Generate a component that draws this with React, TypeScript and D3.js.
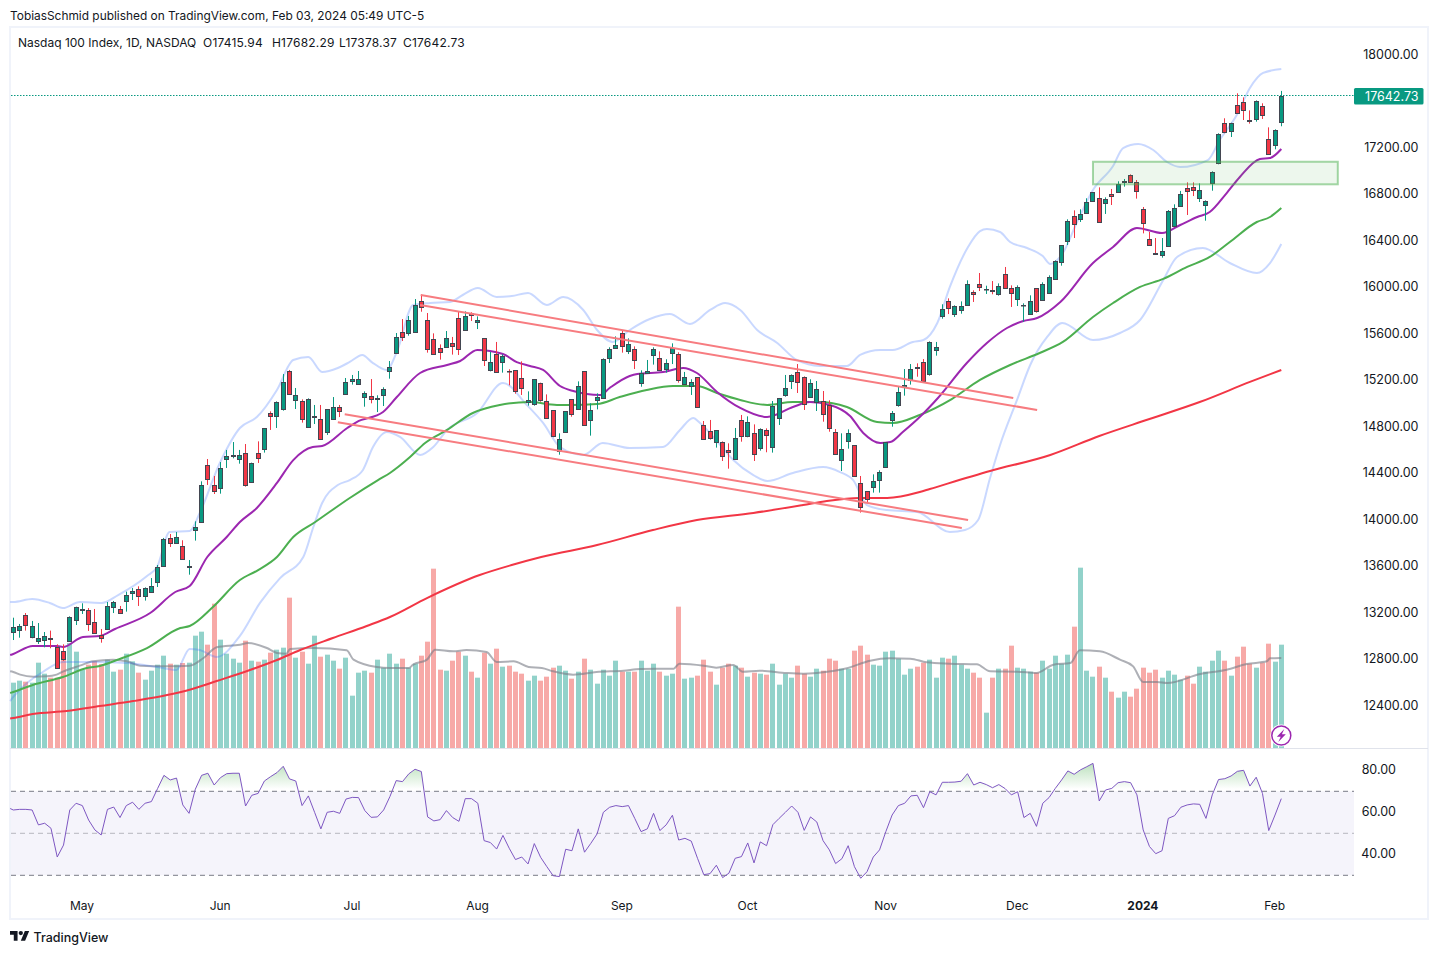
import React, { useRef, useEffect } from 'react';
import * as d3 from 'd3';

const opens = [
  13031,13042,13171,12982,12954,12962,12974,12896,12865,12954,
  13128,13220,13214,13111,13005,13057,13240,13223,13298,13366,
  13395,13341,13375,13461,13599,13834,13797,13765,13584,13908,
  13977,14462,14290,14264,14513,14545,14519,14565,14315,14565,
  14605,14909,14889,14943,15270,15027,15012,14789,14875,14857,
  14746,14863,14961,15078,15184,15158,15047,15061,15029,15064,
  15270,15425,15606,15603,15606,15878,15709,15545,15468,15477,
  15511,15726,15623,15769,15692,15554,15279,15416,15348,15276,
  15279,15210,15004,14986,15167,15012,14935,14582,14748,15029,
  14943,15270,14849,15026,15038,15382,15468,15597,15448,15460,
  15167,15253,15408,15382,15288,15425,15417,15159,15147,15219,
  14806,14754,14660,14660,14591,14519,14849,14711,14737,14608,
  14763,14617,14866,15064,15184,15262,15219,15047,15004,15012,
  14978,14746,14505,14668,14634,14307,14238,14272,14333,14445,
  14849,14978,15133,15193,15305,15348,15245,15457,15743,15872,
  15761,15795,15838,15950,16019,15976,15967,15933,16105,15984,
  15890,15838,15761,15984,15881,15944,16062,16208,16389,16604,
  16584,16630,16733,16759,16716,16793,16810,16896,16956,16896,
  16664,16406,16285,16274,16346,16523,16695,16845,16853,16764,
  16698,16887,17060,17404,17341,17558,17584,17429,17438,17550,
  17266,17214,17415.94
];

const highs = [
  13151,13097,13191,13123,13105,13028,13040,12922,12922,13163,
  13246,13275,13234,13226,13054,13286,13295,13252,13375,13406,
  13421,13412,13492,13604,13837,13871,13888,13817,13647,13980,
  14324,14516,14370,14490,14594,14662,14594,14645,14485,14668,
  14780,14926,15012,15247,15282,15127,15029,15038,14981,14981,
  14946,15049,14981,15213,15239,15273,15098,15204,15064,15133,
  15359,15600,15720,15746,15892,15930,15772,15597,15502,15617,
  15566,15786,15786,15778,15743,15554,15437,15523,15416,15288,
  15279,15356,15098,15201,15173,15072,14935,14737,14929,15029,
  15184,15270,14995,15081,15382,15477,15571,15623,15554,15485,
  15279,15368,15477,15442,15374,15511,15434,15265,15202,15219,
  14843,14852,14763,14668,14651,14783,14895,14883,14814,14780,
  14780,15015,15041,15239,15244,15333,15227,15202,15187,15101,
  15021,14774,14737,14771,14634,14370,14238,14384,14419,14660,
  14929,15141,15290,15333,15339,15376,15528,15523,15847,15898,
  15838,15872,16053,15967,16116,16007,16047,16027,16168,16010,
  16010,15855,15924,15984,16036,16096,16225,16354,16578,16655,
  16664,16759,16810,16853,16767,16839,16905,16925,16965,16916,
  16684,16469,16417,16417,16658,16707,16822,16896,16896,16887,
  16741,16991,17318,17447,17409,17662,17627,17515,17601,17576,
  17369,17352,17682.29
];

const lows = [
  12959,12979,13040,12974,12925,12896,12888,12710,12779,12945,
  13088,13183,13037,13017,12936,13051,13191,13183,13203,13303,
  13252,13298,13375,13415,13596,13759,13788,13656,13521,13814,
  13974,14293,14215,14218,14439,14522,14476,14278,14313,14482,
  14571,14766,14783,14932,15070,14946,14829,14786,14817,14682,
  14723,14860,14877,15075,15156,15153,14966,14995,14920,14972,
  15207,15422,15531,15577,15603,15783,15431,15414,15371,15474,
  15414,15411,15620,15703,15634,15316,15270,15265,15259,15150,
  15078,15067,14975,14975,15009,14863,14703,14553,14743,14880,
  14938,14803,14717,14943,15035,15342,15465,15431,15419,15290,
  15138,15253,15328,15276,15259,15333,15173,15153,15067,14958,
  14683,14683,14614,14499,14433,14513,14665,14703,14499,14588,
  14574,14571,14809,15052,15118,15084,14938,15041,14929,14837,
  14751,14554,14413,14605,14364,14055,14135,14227,14227,14442,
  14794,14966,15061,15156,15224,15182,15233,15405,15723,15763,
  15738,15766,15835,15867,15961,15936,15933,15921,15981,15824,
  15832,15698,15758,15775,15878,15938,16059,16179,16357,16417,
  16555,16627,16730,16549,16624,16701,16807,16859,16893,16756,
  16457,16351,16274,16248,16343,16515,16692,16615,16778,16727,
  16566,16824,17051,17318,17286,17490,17432,17401,17418,17441,
  17134,17180,17378.37
];

const closes = [
  13068,13077,13085,13077,12974,12991,12965,12716,12799,13154,
  13240,13223,13100,13022,12974,13249,13283,13189,13343,13378,
  13335,13404,13421,13584,13825,13797,13842,13659,13593,13928,
  14290,14347,14244,14436,14539,14548,14548,14295,14479,14522,
  14780,14889,15004,15176,15078,15064,14857,15035,14883,14685,
  14943,14961,14932,15176,15201,15201,15081,15029,15038,15115,
  15305,15563,15563,15709,15838,15821,15460,15416,15439,15554,
  15491,15460,15743,15752,15709,15365,15348,15267,15399,15270,
  15098,15124,15021,15201,15024,14866,14711,14685,14926,14900,
  15141,14806,14935,15047,15373,15460,15494,15485,15503,15365,
  15253,15270,15460,15285,15339,15468,15193,15219,15182,14961,
  14685,14694,14763,14539,14574,14694,14711,14832,14556,14771,
  14720,14969,15038,15124,15236,15176,14986,15167,15116,14900,
  14780,14556,14600,14737,14373,14100,14169,14324,14401,14660,
  14909,15090,15150,15288,15302,15184,15520,15477,15804,15812,
  15829,15829,16019,15933,15993,15979,15964,16002,15984,15941,
  15993,15841,15872,15787,16019,16079,16217,16354,16561,16535,
  16621,16724,16810,16552,16750,16776,16879,16905,16896,16819,
  16543,16360,16277,16303,16647,16672,16793,16819,16827,16827,
  16733,16982,17309,17326,17404,17495,17515,17421,17593,17472,
  17137,17343,17642.73
];

const volumes = [
  196,202,199,196,256,223,211,211,265,315,
  289,235,250,260,252,265,229,235,283,260,
  226,205,232,250,277,253,250,255,256,337,
  349,310,433,325,283,268,256,322,262,259,
  265,286,295,301,451,271,289,253,337,274,
  280,262,238,271,157,226,232,226,265,241,
  283,253,268,241,253,277,319,538,235,232,
  262,289,277,229,211,286,253,298,244,247,
  229,223,202,217,202,214,241,247,232,208,
  229,268,235,193,235,217,262,229,229,229,
  262,232,253,229,217,223,424,208,211,217,
  265,229,190,241,253,247,241,214,226,223,
  220,253,190,223,211,247,223,214,238,232,
  268,262,238,238,292,307,280,250,247,289,
  292,268,220,238,244,256,265,211,271,268,
  277,250,238,226,211,106,211,238,238,307,
  241,238,229,226,262,238,277,253,280,364,
  541,232,214,244,211,169,151,169,154,178,
  241,226,235,211,232,220,205,217,193,244,
  229,262,292,262,217,274,304,253,241,256,
  313,259,310
];

const rsi = [
  61.1,61.4,61.4,61.1,54.0,54.8,52.4,38.7,44.4,61.1,
  64.3,63.2,56.3,51.6,49.2,61.4,62.5,57.5,63.2,64.8,
  61.4,64.3,65.1,71.4,77.6,75.4,76.3,63.5,59.5,71.0,
  77.6,78.6,73.0,76.5,78.4,78.6,78.6,63.0,68.1,69.0,
  74.9,77.0,78.9,81.9,75.9,74.9,63.2,67.8,60.0,52.1,
  60.0,60.5,59.5,66.3,67.1,67.0,60.8,57.6,57.8,61.1,
  67.5,75.1,74.6,78.3,80.5,79.4,57.8,55.9,56.5,60.8,
  57.5,55.7,66.5,66.5,64.3,46.5,45.6,42.5,49.0,42.9,
  37.5,38.7,35.4,45.1,38.6,34.1,29.8,29.4,42.4,41.7,
  52.1,41.0,45.2,49.7,60.0,62.4,63.2,62.7,63.2,57.1,
  50.8,52.1,59.5,51.3,54.0,58.6,46.8,47.6,46.3,38.1,
  30.3,30.8,34.8,28.9,31.0,38.1,38.9,45.4,35.9,45.9,
  44.1,54.1,57.1,60.0,63.0,60.0,51.4,57.8,55.4,46.5,
  42.1,35.6,37.9,44.1,34.1,28.6,31.7,38.7,42.1,50.8,
  58.7,63.2,64.3,67.8,68.1,62.2,69.8,68.3,74.3,74.3,
  74.4,74.8,78.4,73.0,74.3,73.2,71.7,73.2,71.3,68.3,
  69.8,57.5,59.5,53.3,64.3,67.0,71.4,75.4,79.7,78.1,
  80.2,81.7,83.3,65.4,70.6,71.4,74.1,74.6,74.1,68.3,
  51.6,43.7,40.3,41.7,57.1,58.4,62.4,63.5,64.0,63.8,
  57.1,68.3,75.6,76.0,77.3,79.5,80.0,72.5,76.7,69.0,
  51.3,58.7,66.5
];

// RSI where the pane's left edge cuts the bar before the first one
const rsiLead = 61.8;

// [bar, value], starting at the pane's left edge
const ma20: [number, number][] = [
  [-0.5,12830],[0,12839],[3.1,12907],[7,12907],[7.9,12899],[11.1,12985],[13.8,12994],[16.2,13054],[21.8,13191],[25.8,13372],[28.1,13424],
  [30.9,13673],[34,13845],[36.1,13974],[38.8,14095],[42,14310],[44.6,14507],[47.7,14619],[49.2,14628],[53.2,14783],[54.7,14834],
  [58.9,14920],[61.1,15049],[64.8,15256],[69.1,15325],[71.2,15359],[73.9,15454],[78,15419],[80.2,15350],[82.3,15316],[84.4,15282],
  [87.1,15144],[89.2,15101],[93.5,15067],[95,15127],[98.2,15230],[99.4,15247],[103.5,15264],[106.7,15299],[108.9,15256],[112.1,15093],
  [115.8,14955],[120.1,14877],[124.2,14963],[126.9,15006],[130.1,14981],[133.3,14886],[135.4,14740],[138.1,14654],[139.7,14662],[141.7,14748],
  [144.4,14877],[147.3,15041],[151.9,15342],[155.1,15514],[158.3,15643],[160.9,15703],[163.1,15729],[166.8,15867],[172,16202],[175.2,16340],
  [179,16503],[183,16460],[185.9,16529],[188.6,16598],[190.6,16641],[193.3,16804],[195.4,16942],[198.6,17097],[200.2,17105],[202,17183]
];

const ma50: [number, number][] = [
  [-0.5,12503],[0,12512],[3.1,12572],[7.9,12641],[11.7,12718],[13.8,12736],[16.5,12787],[21.3,12890],[26.6,13062],[28.1,13080],[31.8,13243],
  [36.1,13475],[39,13561],[42,13673],[44.6,13845],[48.1,13974],[53.6,14181],[58.1,14335],[60,14396],[63.2,14533],[65.6,14654],
  [69.1,14766],[73.2,14912],[77.5,14981],[82.3,15006],[86.6,14981],[88.7,14981],[93,14989],[96.6,15049],[100.9,15110],[105.1,15144],
  [108.9,15144],[112.1,15084],[115.8,15024],[120.1,14981],[124.2,15006],[128.5,15006],[132.8,14963],[137.6,14834],[140.1,14826],[144.4,14895],
  [149.5,15032],[154,15196],[158.8,15325],[163.5,15428],[167.2,15523],[172,15738],[175.2,15858],[179.5,15996],[183.2,16065],[187,16168],
  [190.6,16254],[193.8,16383],[198.1,16555],[200.2,16598],[202,16675]
];

const ma200: [number, number][] = [
  [-0.5,12284],[0,12288],[3.1,12323],[8.5,12348],[13.8,12391],[19.1,12434],[24.5,12486],[28.5,12538],[32.4,12606],[37.7,12701],[42,12787],
  [45.7,12873],[50.9,12976],[56.3,13080],[60,13157],[65.9,13320],[74.3,13518],[79.4,13604],[84.1,13673],[93,13776],[101.9,13905],
  [108.9,13991],[117.9,14052],[125.8,14120],[129.6,14155],[134.9,14181],[139.2,14181],[144.4,14232],[146,14258],[155.6,14413],[165.2,14551],
  [173,14714],[181,14860],[189,15006],[197,15179],[202,15282]
];

const bbUpper: [number, number][] = [
  [-0.5,13286],[0,13286],[3,13312],[5.8,13278],[7.9,13234],[10.6,13286],[14.1,13278],[16.7,13346],[21.3,13510],[22.9,13587],[24.9,13888],
  [28.1,13897],[29.7,14052],[32.9,14482],[36.1,14783],[38.8,14877],[42,15110],[44.6,15368],[47,15394],[49.2,15265],[51.7,15299],
  [53.6,15351],[55.6,15411],[57.1,15350],[59.5,15282],[61.1,15437],[63.7,15841],[66.4,15858],[69.6,15867],[71.6,15927],[74,15987],
  [77,15910],[79.4,15918],[82,15944],[85,15841],[87.6,15910],[90.8,15798],[93,15626],[95.5,15523],[98.2,15626],[101.4,15720],
  [104.6,15763],[107.8,15677],[111,15798],[113.4,15858],[115.8,15798],[118.5,15626],[121.7,15514],[124.8,15368],[128.5,15316],[132.8,15316],
  [134.9,15411],[138.1,15454],[140.1,15454],[143.3,15522],[145,15540],[147.2,15686],[149.2,15996],[152,16331],[154,16477],[155.1,16495],
  [157.2,16469],[158.8,16383],[161.5,16331],[164,16262],[165.2,16194],[167.2,16288],[169.4,16546],[172,16830],[175.2,17037],[176.8,17191],
  [179.2,17226],[181.6,17174],[183.8,17071],[185.9,17028],[190.3,17088],[192.2,17260],[194.9,17475],[197,17708],[199.1,17837],[202,17871]
];

const bbLower: [number, number][] = [
  [-0.5,12434],[0,12469],[2.2,12589],[4.7,12684],[7.9,12770],[12.7,12770],[18.1,12761],[22.9,12727],[26,12701],[28.1,12882],[29.7,12873],
  [32.4,12813],[36.1,12994],[39.3,13278],[42.5,13492],[46.2,13673],[47.8,13931],[49.2,14138],[51.7,14292],[53.6,14335],[55.7,14422],
  [57.3,14619],[59.5,14748],[61.6,14706],[64.8,14551],[66.9,14619],[69.1,14766],[73.9,14912],[78,15170],[81.8,14981],[84.4,14826],
  [87.1,14619],[90.8,14551],[93.9,14654],[98.2,14611],[103.5,14619],[106.2,14766],[108.3,14869],[109.4,14826],[112.6,14637],[114.7,14507],
  [117.9,14378],[120.1,14327],[124.2,14396],[129,14447],[131.7,14404],[133.8,14335],[136,14120],[139.2,14077],[144,14060],[149.2,13888],
  [151.6,13905],[153.7,13991],[155.6,14353],[157.2,14637],[159.9,15024],[162,15325],[164.7,15566],[167.1,15686],[172,15540],[176.3,15600],
  [179.5,15712],[183.2,16056],[185.4,16254],[189.5,16331],[193.8,16202],[198.1,16116],[200.2,16202],[202,16366]
];

const volumeMa: [number, number][] = [
  [-0.5,230],[0,228],[1.1,220],[3.2,214],[5.3,215],[6.9,220],[8,230],[10.6,247],[12.7,260],[15.9,265],[18.1,260],
  [20.2,247],[24.4,245],[28.1,247],[30.3,270],[32.4,302],[36.1,310],[37.4,315],[40.4,300],[42,285],[43.5,283],
  [44.1,297],[47.8,300],[53.1,293],[54.2,265],[57.9,243],[60,240],[63,240],[63.7,250],[65.9,265],[67.2,295],
  [70.1,290],[72.2,294],[75.4,288],[77,258],[79.7,260],[82.1,243],[84.2,240],[86,230],[89.2,220],[92.9,228],
  [97.2,232],[99.9,237],[105.2,238],[106.1,253],[110,247],[112,241],[114.7,249],[116.2,229],[118.9,232],[123.2,225],
  [125.9,223],[128,225],[132.8,239],[136.5,262],[139.7,269],[142.9,268],[145.5,257],[149.2,253],[153.5,251],[155.6,230],
  [159.9,229],[163,225],[165.7,250],[168.4,255],[169.9,293],[173.1,290],[176.3,265],[178.4,245],[180,198],[182.2,198],
  [183.8,195],[189.1,222],[193.3,235],[196.5,252],[199.7,260],[200.2,269],[202,270]
];

// trend channels: [bar, price] at each end
const trendLines: [number, number][][] = [
  [[64.9,15927],[159.3,15041]],
  [[64.8,15841],[163.1,14938]],
  [[52.8,14901],[152.1,13991]],
  [[51.7,14832],[151.1,13923]]
];

const zoneBars = [172, 211];
const zonePrices = [17073, 16879];

// 17600 sits behind the last price label
const priceTicks = [12400, 12800, 13200, 13600, 14000, 14400, 14800, 15200, 15600, 16000, 16400, 16800, 17200, 18000];
const rsiTicks = [40, 60, 80];
const rsiLevels = [70, 50, 30];
const monthBars = [11, 33, 54, 74, 97, 117, 139, 160, 180, 201];
const monthLabels = ['May', 'Jun', 'Jul', 'Aug', 'Sep', 'Oct', 'Nov', 'Dec', '2024', 'Feb'];

const UP = '#089981';
const DOWN = '#F23645';
const FONT = 'Inter, "Noto Sans", sans-serif';

export default function App() {
  const svgRef = useRef<SVGSVGElement>(null);

  useEffect(() => {
    if (!svgRef.current) return;
    document.body.style.margin = '0';

    const svg = d3.select(svgRef.current);
    svg.selectAll('*').remove();

    const width = 1438;
    const height = 954;
    svg.attr('width', width).attr('height', height).style('font-family', FONT);

    const frame = { left: 10, right: 1428, top: 27, bottom: 919 };
    const paneRight = 1354;

    // Scales
    const x = d3.scaleLinear().domain([0, 202]).range([13.3, 1281.3]);
    const y = d3.scaleLinear().domain([12400, 18000]).range([705, 54]);
    const yVol = d3.scaleLinear().domain([0, 540]).range([748, 568]);
    const yRsi = d3.scaleLinear().domain([30, 70]).range([875.3, 791.3]);

    svg.append('rect').attr('width', width).attr('height', height).attr('fill', '#fff');

    svg.append('text').attr('x', 10).attr('y', 19.5)
      .attr('font-size', 11.9).attr('fill', '#131722')
      .text('TobiasSchmid published on TradingView.com, Feb 03, 2024 05:49 UTC-5');

    svg.append('rect')
      .attr('x', frame.left).attr('y', frame.top)
      .attr('width', frame.right - frame.left).attr('height', frame.bottom - frame.top)
      .attr('fill', 'none').attr('stroke', '#F0F3FA').attr('stroke-width', 2);

    svg.append('line')
      .attr('x1', frame.left).attr('x2', frame.right).attr('y1', 748.5).attr('y2', 748.5)
      .attr('stroke', '#E0E3EB').attr('stroke-width', 1);

    // Volume
    const barRadius = 2.5;
    svg.append('g').selectAll('rect').data(volumes).join('rect')
      .attr('x', (_, i) => Math.round(x(i) - barRadius))
      .attr('width', 5)
      .attr('y', d => yVol(d))
      .attr('height', d => yVol(0) - yVol(d))
      .attr('fill', (_, i) => (closes[i] >= opens[i] ? '#92D2CA' : '#F7A9A7'));

    const lineFrom = (scale: d3.ScaleLinear<number, number>) => d3.line<[number, number]>()
      .x(d => x(d[0]))
      .y(d => scale(d[1]))
      .curve(d3.curveMonotoneX);

    const drawLine = (data: [number, number][], scale: d3.ScaleLinear<number, number>, color: string, w: number) =>
      svg.append('path').attr('d', lineFrom(scale)(data))
        .attr('fill', 'none').attr('stroke', color).attr('stroke-width', w).attr('stroke-linejoin', 'round');

    drawLine(volumeMa, yVol, 'rgba(120,123,134,0.6)', 2);
    drawLine(bbUpper, y, 'rgba(41,98,255,0.25)', 2);
    drawLine(bbLower, y, 'rgba(41,98,255,0.25)', 2);
    drawLine(ma200, y, '#F23645', 2);
    drawLine(ma50, y, '#4CAF50', 2);
    drawLine(ma20, y, '#9C27B0', 2);

    // Candles
    const candles = svg.append('g');
    opens.forEach((open, i) => {
      const close = closes[i];
      const color = close >= open ? UP : DOWN;
      const cx = Math.floor(x(i)) + 0.5;
      candles.append('line')
        .attr('x1', cx).attr('x2', cx)
        .attr('y1', y(highs[i])).attr('y2', y(lows[i]))
        .attr('stroke', color).attr('stroke-width', 1);
      const top = Math.round(y(Math.max(open, close))) + 0.5;
      const bottom = Math.round(y(Math.min(open, close))) + 0.5;
      candles.append('rect')
        .attr('x', cx - 2).attr('width', 4)
        .attr('y', top).attr('height', Math.max(bottom - top, 0.5))
        .attr('fill', color).attr('stroke', '#434651').attr('stroke-width', 1);
    });

    // Trend channels
    trendLines.forEach(line => {
      svg.append('line')
        .attr('x1', x(line[0][0])).attr('y1', y(line[0][1]))
        .attr('x2', x(line[1][0])).attr('y2', y(line[1][1]))
        .attr('stroke', '#F77C80').attr('stroke-width', 2);
    });

    // Support zone
    svg.append('rect')
      .attr('x', x(zoneBars[0])).attr('width', x(zoneBars[1]) - x(zoneBars[0]))
      .attr('y', y(zonePrices[0])).attr('height', y(zonePrices[1]) - y(zonePrices[0]))
      .attr('fill', 'rgba(76,175,80,0.1)').attr('stroke', 'rgba(76,175,80,0.5)').attr('stroke-width', 2);

    // Last price line and label
    const last = closes[closes.length - 1];
    svg.append('line')
      .attr('x1', frame.left + 1).attr('x2', paneRight)
      .attr('y1', Math.floor(y(last)) + 0.5).attr('y2', Math.floor(y(last)) + 0.5)
      .attr('stroke', UP).attr('stroke-width', 1).attr('stroke-dasharray', '1.5 1.5');
    svg.append('rect')
      .attr('x', paneRight).attr('y', y(last) - 7.5).attr('width', 69.5).attr('height', 16.5)
      .attr('rx', 1.5).attr('fill', UP);
    svg.append('text')
      .attr('x', 1418.5).attr('y', y(last) + 5.5)
      .attr('text-anchor', 'end').attr('font-size', 12.5).attr('fill', '#fff')
      .text(d3.format('.2f')(last));

    // Price axis
    const priceAxis = svg.append('g')
      .attr('transform', 'translate(1418.5,0)')
      .call(d3.axisLeft(y).tickValues(priceTicks).tickSize(0).tickPadding(0).tickFormat(d3.format('.2f') as any));
    priceAxis.select('.domain').remove();
    priceAxis.selectAll('text').attr('font-size', 12.5).attr('fill', '#131722').style('font-family', FONT);

    // Legend
    const legend = svg.append('g').attr('font-size', 12).attr('fill', '#131722');
    const legendItems: [number, string][] = [
      [18, 'Nasdaq 100 Index, 1D, NASDAQ'],
      [203, 'O' + d3.format('.2f')(opens[202])],
      [272, 'H' + d3.format('.2f')(highs[202])],
      [339, 'L' + d3.format('.2f')(lows[202])],
      [403, 'C' + d3.format('.2f')(last)]
    ];
    legendItems.forEach(([lx, label], i) => {
      legend.append('text').attr('x', lx).attr('y', 46.5)
        .attr('letter-spacing', i === 0 ? 0 : 0.2)
        .text(label);
    });

    // Volume event marker
    const marker = svg.append('g').attr('transform', `translate(${x(202)},735.5)`);
    marker.append('circle').attr('r', 11).attr('fill', '#fff');
    marker.append('circle').attr('r', 9.5).attr('fill', '#fff').attr('stroke', '#9C27B0').attr('stroke-width', 1.5);
    marker.append('path').attr('d', 'M3,-6.5 L-4.5,1.2 H-0.6 L-3,6.5 L4.5,-1.2 H0.6 Z').attr('fill', '#9C27B0');

    // RSI pane
    svg.append('rect')
      .attr('x', frame.left + 1).attr('width', paneRight - frame.left - 1)
      .attr('y', yRsi(70)).attr('height', yRsi(30) - yRsi(70))
      .attr('fill', '#F5F4FB');

    rsiLevels.forEach(level => {
      svg.append('line')
        .attr('x1', frame.left + 1).attr('x2', paneRight)
        .attr('y1', yRsi(level)).attr('y2', yRsi(level))
        .attr('stroke', level === 50 ? 'rgba(120,123,134,0.5)' : '#787B86')
        .attr('stroke-width', 1).attr('stroke-dasharray', '5 4');
    });

    const defs = svg.append('defs');
    const grad = defs.append('linearGradient').attr('id', 'rsiFill')
      .attr('gradientUnits', 'userSpaceOnUse')
      .attr('x1', 0).attr('x2', 0).attr('y1', yRsi(84)).attr('y2', yRsi(71));
    grad.append('stop').attr('offset', 0).attr('stop-color', '#4CAF50').attr('stop-opacity', 0.4);
    grad.append('stop').attr('offset', 1).attr('stop-color', '#4CAF50').attr('stop-opacity', 0);
    defs.append('clipPath').attr('id', 'rsiAbove').append('rect')
      .attr('x', 0).attr('width', width).attr('y', 0).attr('height', yRsi(70));

    const rsiPoints: [number, number][] = [[-0.5, rsiLead], ...rsi.map((v, i): [number, number] => [i, v])];
    const rsiArea = d3.area<[number, number]>()
      .x(d => x(d[0]))
      .y0(yRsi(70))
      .y1(d => yRsi(d[1]));
    svg.append('path').datum(rsiPoints)
      .attr('d', rsiArea)
      .attr('fill', 'url(#rsiFill)')
      .attr('clip-path', 'url(#rsiAbove)');

    const rsiLine = d3.line<[number, number]>().x(d => x(d[0])).y(d => yRsi(d[1]));
    svg.append('path').datum(rsiPoints)
      .attr('d', rsiLine)
      .attr('fill', 'none').attr('stroke', '#7E57C2').attr('stroke-width', 1);

    const rsiAxis = svg.append('g')
      .attr('transform', 'translate(1396,-1)')
      .call(d3.axisLeft(yRsi).tickValues(rsiTicks).tickSize(0).tickPadding(0).tickFormat(d3.format('.2f') as any));
    rsiAxis.select('.domain').remove();
    rsiAxis.selectAll('text').attr('font-size', 12.5).attr('fill', '#131722').style('font-family', FONT);

    // Time axis
    const timeAxis = svg.append('g')
      .attr('transform', 'translate(-0.8,905.5)')
      .call(d3.axisBottom(x).tickValues(monthBars).tickSize(0).tickPadding(0)
        .tickFormat((_, i) => monthLabels[i]));
    timeAxis.select('.domain').remove();
    timeAxis.selectAll('text')
      .attr('dy', '0.35em')
      .attr('y', 0)
      .attr('font-size', 12).attr('fill', '#131722').style('font-family', FONT)
      .attr('font-weight', (_, i) => (monthLabels[i] === '2024' ? 700 : 400));

    // TradingView mark
    const logo = svg.append('g').attr('transform', 'translate(10,928.8) scale(0.54)').attr('fill', '#131722');
    logo.append('path').attr('d', 'M14 22H7V11H0V4h14v18zM28 22h-8l7.5-18h8L28 22z');
    logo.append('circle').attr('cx', 20).attr('cy', 8).attr('r', 4);
    svg.append('text').attr('x', 33.5).attr('y', 941.8)
      .attr('font-size', 12.5).attr('font-weight', 500).attr('fill', '#131722')
      .text('TradingView');
  }, []);

  return <svg ref={svgRef} style={{ position: 'absolute', left: 0, top: 0, display: 'block' }}></svg>;
}
